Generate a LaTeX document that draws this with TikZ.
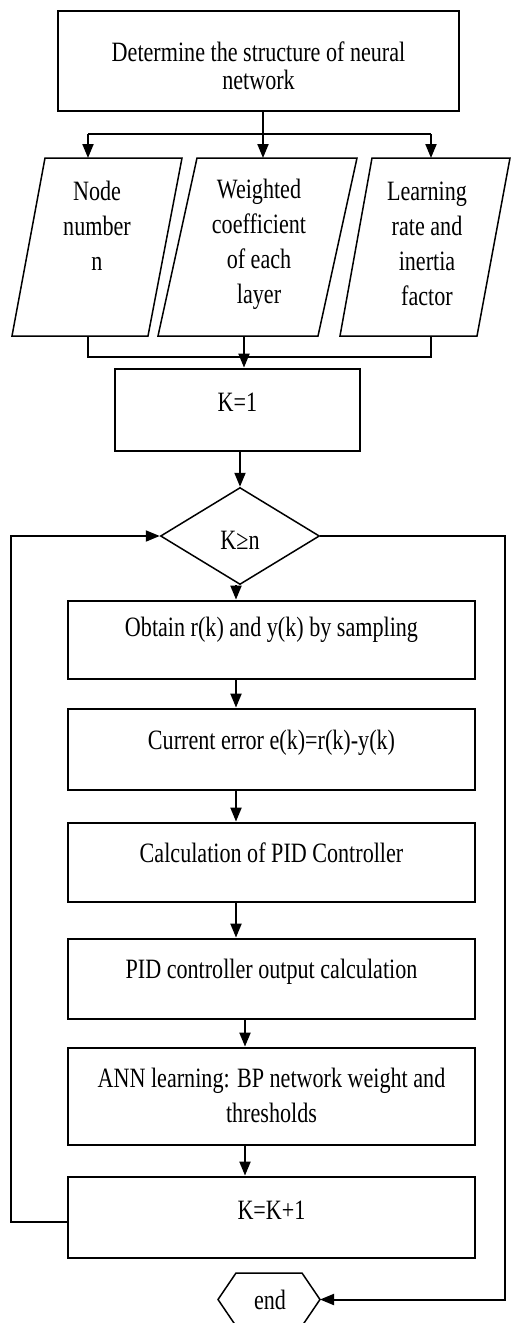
\documentclass[tikz,border=0pt]{standalone}
\usepackage{fontspec}
\setmainfont{Liberation Serif}[FakeStretch=0.79]
\usetikzlibrary{arrows.meta,shapes.geometric}
\begin{document}
\begin{tikzpicture}[x=0.5pt,y=-0.5pt,
  box/.style={draw, line width=1.4pt, inner sep=0pt},
  thin/.style={draw, line width=0.75pt},
  conn/.style={line width=1pt},
  arr/.style={conn, -{Triangle[width=5.5pt,length=7pt]}},
  txt/.style={font=\fontsize{14}{17.5}\selectfont, align=center, inner sep=0pt},
  lbox/.style={box, minimum width=203.5pt}]
\useasboundingbox (0,0) rectangle (513,1323);

% top box
\node[box, minimum width=200.5pt, minimum height=50pt] (top) at (258.5,61) {};
\node[txt, font=\fontsize{14}{14}\selectfont] (topt) at (258.5,66) {Determine the structure of neural\\network};

% parallelograms
\coordinate (p1a) at (45,158);  \coordinate (p1b) at (182,158);
\coordinate (p1c) at (148,336); \coordinate (p1d) at (12,336);
\coordinate (p2a) at (197,158); \coordinate (p2b) at (357,158);
\coordinate (p2c) at (318,336); \coordinate (p2d) at (158,336);
\coordinate (p3a) at (372,158); \coordinate (p3b) at (510,158);
\coordinate (p3c) at (477,336); \coordinate (p3d) at (340,336);
\draw[thin] (p1a) -- (p1b) -- (p1c) -- (p1d) -- cycle;
\draw[thin] (p2a) -- (p2b) -- (p2c) -- (p2d) -- cycle;
\draw[thin] (p3a) -- (p3b) -- (p3c) -- (p3d) -- cycle;
\node[txt] (p1t) at (97,226) {Node\\number\\n};
\node[txt] (p2t) at (259,244) {Weighted\\coefficient\\of each\\layer};
\node[txt] (p3t) at (427,244) {Learning\\rate and\\inertia\\factor};

% split
\coordinate (sL) at (88,134); \coordinate (sM) at (263,134); \coordinate (sR) at (431,134);
\draw[conn] (top.south -| sM) -- (sM);
\draw[conn] (sL) -- (sR);
\draw[arr] (sL) -- (sL |- p1a);
\draw[arr] (sM) -- (sM |- p2a);
\draw[arr] (sR) -- (sR |- p3a);

% K=1
\node[box, minimum width=122.5pt, minimum height=41pt] (k1) at (237.5,410) {};
\node[txt] (k1t) at (237.5,402) {K=1};

% join
\coordinate (jL) at (88,357); \coordinate (jM) at (244,357); \coordinate (jR) at (431,357);
\draw[conn] (jL |- p1d) -- (jL) -- (jR) -- (jR |- p3d);
\draw[arr] (jM |- p2d) -- (jM |- k1.north);

% diamond
\node[thin, diamond, minimum width=79.5pt, minimum height=48.5pt, inner sep=0pt] (dia) at (240,536) {};
\node[txt] (diat) at (240,540) {K≥n};
\draw[arr] (dia.north |- k1.south) -- (dia.north);

% loop boxes
\coordinate (colA) at (236,0); \coordinate (colB) at (245,0);
\node[lbox, minimum height=39pt] (obt) at (271.5,640) {};
\node[txt] (obtt) at (271.5,630) {Obtain r(k) and y(k) by sampling};
\node[lbox, minimum height=40.5pt] (err) at (271.5,749.5) {};
\node[txt] (errt) at (271.5,743) {Current error e(k)=r(k)-y(k)};
\node[lbox, minimum height=39.5pt] (calc) at (271.5,862.5) {};
\node[txt] (calct) at (271.5,853) {Calculation of PID Controller};
\node[lbox, minimum height=40pt] (out) at (271.5,979) {};
\node[txt] (outt) at (271.5,972) {PID controller output calculation};
\node[lbox, minimum height=48.5pt] (ann) at (271.5,1096.5) {};
\node[txt] (annt) at (271.5,1095) {ANN learning: BP network weight and\\thresholds};
\node[lbox, minimum height=40.5pt] (kk) at (271.5,1217.5) {};
\node[txt] (kkt) at (271.5,1210) {K=K+1};

\draw[arr] (dia.south -| colA) -- (obt.north -| colA);
\draw[arr] (obt.south -| colA) -- (err.north -| colA);
\draw[arr] (err.south -| colA) -- (calc.north -| colA);
\draw[arr] (calc.south -| colA) -- (out.north -| colA);
\draw[arr] (out.south -| colB) -- (ann.north -| colB);
\draw[arr] (ann.south -| colB) -- (kk.north -| colB);

% end
\coordinate (eL) at (218,1299.5); \coordinate (eR) at (320,1299.5);
\draw[thin] (eL) -- (236,1273) -- (302,1273) -- (eR) -- (302,1326) -- (236,1326) -- cycle;
\node[txt] (endt) at (270,1300) {end};

% loops
\coordinate (loopL) at (11,1222); \coordinate (loopR) at (505,536);
\draw[arr] (kk.west |- loopL) -- (loopL) |- (dia.west);
\draw[arr] (dia.east) -- (loopR) |- (eR);
\end{tikzpicture}
\end{document}
